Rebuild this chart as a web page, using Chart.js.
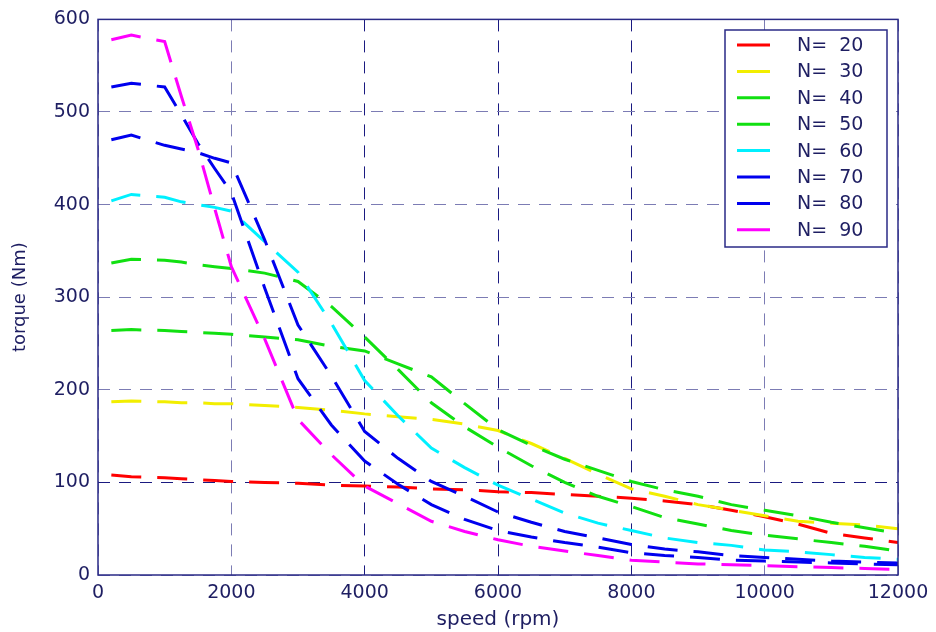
<!DOCTYPE html>
<html lang="en">
<head>
<meta charset="UTF-8">
<title>torque vs speed</title>
<script src="https://cdn.jsdelivr.net/npm/chart.js"></script>
<style>
  body { margin: 0; background: #fff; }
  #chart { display: block; }
</style>
</head>
<body>
<canvas id="chart" width="936" height="632"></canvas>
<script>
// speed (rpm) where every curve is sampled
const speeds = [200, 500, 1000, 1250, 1500, 1750, 2000, 2500, 3000, 3500, 4000, 4500, 5000, 5500,
                6000, 6500, 7000, 7500, 8000, 8500, 9000, 9500, 10000, 10500, 11000, 11500, 12000];

// torque (Nm) per number of turns N
const torqueN20 = [108, 106, 105, 104, 103, 102, 101, 100, 99, 97, 96, 95, 93, 92, 90, 89, 87, 85, 83, 80, 76, 70, 63, 55, 45, 40, 35];
const torqueN30 = [187, 188, 187, 186, 186, 185, 185, 183, 181, 178, 174, 171, 168, 163, 156, 142, 126, 109, 93, 85, 76, 70, 64, 58, 56, 54, 50];
const torqueN40 = [264, 265, 264, 263, 262, 261, 260, 257, 254, 247, 242, 228, 214, 185, 157, 140, 125, 113, 101, 92, 85, 76, 70, 64, 57, 51, 45];
const torqueN50 = [337, 341, 340, 338, 335, 333, 331, 326, 317, 290, 257, 222, 186, 160, 138, 118, 100, 85, 74, 62, 55, 48, 43, 39, 35, 31, 26];
const torqueN60 = [404, 411, 408, 403, 400, 397, 393, 360, 327, 272, 210, 172, 137, 116, 97, 82, 67, 56, 48, 40, 35, 32, 27, 25, 22, 19, 17];
const torqueN70 = [470, 475, 464, 460, 456, 450, 445, 362, 270, 215, 155, 126, 101, 85, 68, 57, 47, 40, 33, 28, 25, 21, 19, 17, 15, 14, 13];
const torqueN80 = [527, 531, 527, 497, 466, 439, 413, 310, 212, 162, 123, 98, 76, 60, 48, 41, 35, 30, 24, 21, 19, 16, 15, 14, 13, 12, 11];
const torqueN90 = [578, 583, 576, 517, 460, 396, 333, 255, 168, 130, 96, 77, 58, 47, 38, 31, 26, 21, 16, 14, 12, 11, 10, 9, 8, 7, 6];

const turns = [20, 30, 40, 50, 60, 70, 80, 90];
const torques = [torqueN20, torqueN30, torqueN40, torqueN50, torqueN60, torqueN70, torqueN80, torqueN90];
const colors = ['#ff0000', '#f2ee00', '#11e011', '#11e011', '#00f0ff', '#0000ee', '#0000ee', '#ff00ff'];

const navy = '#1e1e62';
const fontFamily = '"DejaVu Sans", sans-serif';

const datasets = turns.map((n, i) => ({
    label: 'N=  ' + n,
    data: speeds.map((s, k) => ({ x: s, y: torques[i][k] })),
    borderColor: colors[i],
    backgroundColor: colors[i],
    borderWidth: 3,
    borderDash: [30, 16],
    pointRadius: 0,
    tension: 0,
    fill: false,
    order: turns.length - i
}));

// box around the plot, like the matlab axes
const framePlugin = {
    id: 'frame',
    afterDatasetsDraw(chart) {
        const { ctx, chartArea: a } = chart;
        ctx.save();
        ctx.strokeStyle = '#2a2a86';
        ctx.lineWidth = 1.5;
        ctx.strokeRect(a.left, a.top, a.right - a.left, a.bottom - a.top);
        ctx.restore();
    }
};

// legend in a framed box, top right corner
const legendBox = {
    id: 'legendBox',
    afterDraw(chart) {
        const ctx = chart.ctx;
        const x = 725, y = 30, w = 162, h = 217;
        ctx.save();
        ctx.fillStyle = '#ffffff';
        ctx.fillRect(x, y, w, h);
        ctx.strokeStyle = '#2a2a86';
        ctx.lineWidth = 1.5;
        ctx.strokeRect(x, y, w, h);
        ctx.font = '19px ' + fontFamily;
        ctx.textBaseline = 'middle';
        chart.data.datasets.forEach((ds, i) => {
            const ly = y + 15 + i * 26.4;
            ctx.strokeStyle = ds.borderColor;
            ctx.lineWidth = 3;
            ctx.beginPath();
            ctx.moveTo(x + 12, ly);
            ctx.lineTo(x + 45, ly);
            ctx.stroke();
            ctx.fillStyle = navy;
            ctx.fillText(ds.label, x + 72, ly + 1);
        });
        ctx.restore();
    }
};

const darkX = [4000, 6000, 8000];
const darkY = [100];

new Chart(document.getElementById('chart'), {
    type: 'line',
    data: { datasets: datasets },
    options: {
        responsive: false,
        animation: false,
        layout: { padding: { top: 17, right: 38, left: 0, bottom: 0 } },
        plugins: {
            legend: { display: false },
            tooltip: { enabled: false }
        },
        scales: {
            x: {
                type: 'linear',
                min: 0,
                max: 12000,
                ticks: { stepSize: 2000, color: navy, padding: 7, font: { family: fontFamily, size: 19 },
                         callback: v => String(v) },
                grid: {
                    drawTicks: false,
                    lineWidth: 1,
                    color: c => darkX.includes(c.tick.value) ? '#1a1a80' : '#7c7cb4'
                },
                border: { display: false, dash: [12, 9] },
                title: { display: true, text: 'speed (rpm)', color: navy, padding: { top: 0, bottom: 0 },
                         font: { family: fontFamily, size: 20 } },
                afterFit: s => { s.height = 57; }
            },
            y: {
                min: 0,
                max: 600,
                ticks: { stepSize: 100, color: navy, padding: 8, font: { family: fontFamily, size: 19 } },
                grid: {
                    drawTicks: false,
                    lineWidth: 1,
                    color: c => darkY.includes(c.tick.value) ? '#1a1a80' : '#7c7cb4'
                },
                border: { display: false, dash: [12, 9] },
                title: { display: true, text: 'torque (Nm)', color: navy, padding: { top: 10, bottom: 0 },
                         font: { family: fontFamily, size: 18 } },
                afterFit: s => { s.width = 98; }
            }
        }
    },
    plugins: [framePlugin, legendBox]
});
</script>
</body>
</html>
